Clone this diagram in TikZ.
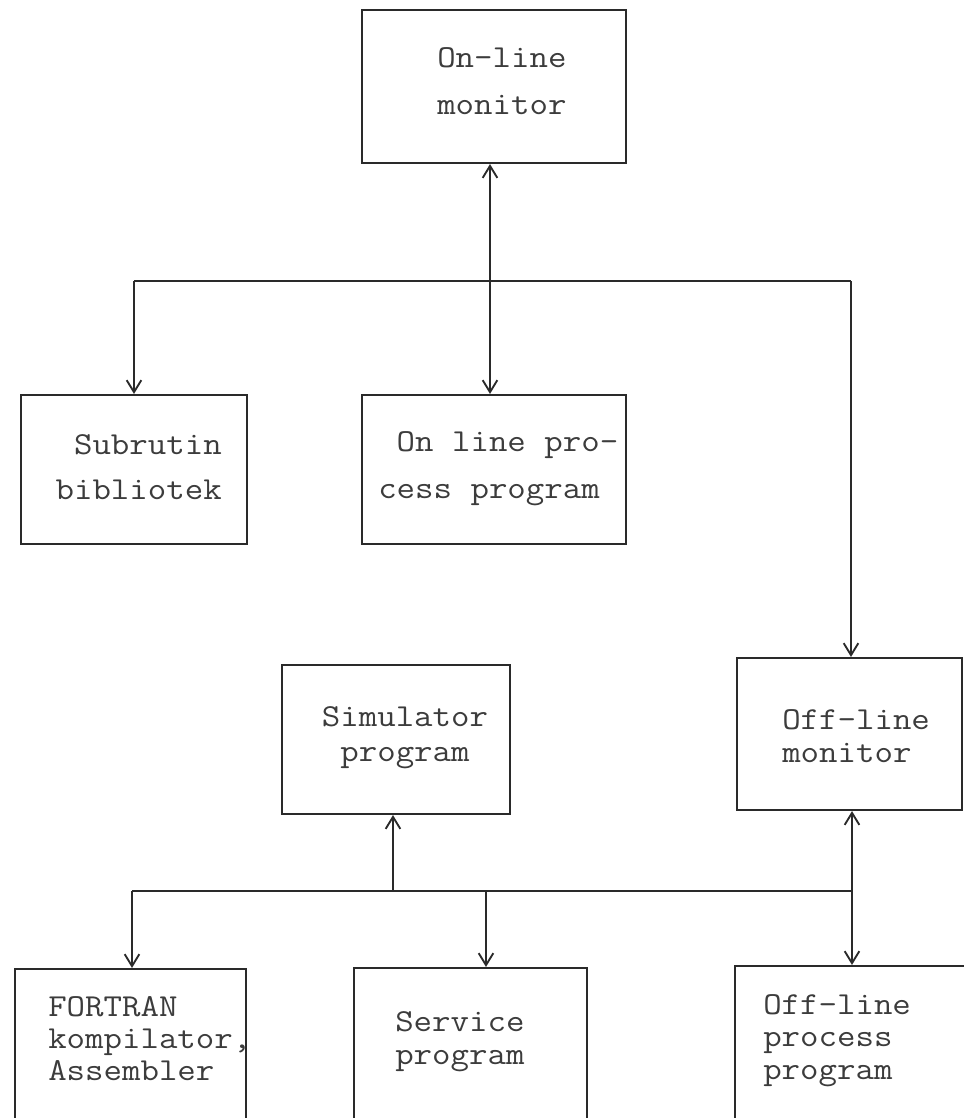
\documentclass[tikz,border=0pt]{standalone}
\usepackage{fontspec}
\setmonofont{Latin Modern Mono}[FakeStretch=1.12]
\usetikzlibrary{arrows.meta,fit}
\definecolor{linec}{HTML}{2A2A2A}
\definecolor{textc}{HTML}{3C3C3C}
\newcommand\mytt[1]{\ttfamily\fontsize{24pt}{#1pt}\selectfont}
\begin{document}
\begin{tikzpicture}[x=0.75pt,y=-0.75pt,
  box/.style={draw=linec, line width=1.6pt, inner sep=0pt},
  conn/.style={draw=linec, line width=1.4pt},
  tipb/.tip={Straight Barb[length=9pt,width=11pt,line width=1.4pt]},
  arr/.style={conn, -tipb},
  darr/.style={conn, tipb-tipb},
  lbl/.style={text=textc, inner sep=0pt, anchor=west, align=left}]
\useasboundingbox (0,0) rectangle (964,1118);
\fill[white] (0,0) rectangle (964,1118);
\clip (0,0) rectangle (964,1118);

% boxes
\node[box, fit={(362,10)(626,163)}] (onm) {};
\node[box, fit={(21,395)(247,544)}] (sub) {};
\node[box, fit={(362,395)(626,544)}] (olp) {};
\node[box, fit={(282,665)(510,814)}] (sim) {};
\node[box, fit={(737,658)(962,810)}] (ofm) {};
\node[box, fit={(15,969)(246,1170)}] (fort) {};
\node[box, fit={(354,968)(587,1170)}] (serv) {};
\node[box, fit={(735,966)(1010,1170)}] (ofp) {};

% texts
\node[lbl, font=\mytt{35.2}] (tonm) at (437,81.5) {On-line\\monitor};
\node[lbl, anchor=east, align=right, font=\mytt{33.8}] (tsub) at (222,467.5) {Subrutin\\bibliotek};
\node[lbl, font=\mytt{35.2}] (tolp) at (378,468.5) {\hphantom{O}On line pro-\\cess program};
\node[lbl, anchor=center, align=center, font=\mytt{26.2}] (tsim) at (405,737.5) {Simulator\\program};
\node[lbl, font=\mytt{24.2}] (tofm) at (782,736) {Off-line\\monitor};
\node[lbl, font=\mytt{24}] (tfort) at (48,1038.5) {FORTRAN\\kompilator,\\Assembler};
\node[lbl, font=\mytt{24.7}] (tserv) at (395,1041.5) {Service\\program};
\node[lbl, font=\mytt{24.4}] (tofp) at (763,1040.5) {Off-line\\process\\program};

% bus points
\coordinate (b1L) at (134,281);
\coordinate (b1R) at (851,281);
\coordinate (b1M) at (490,281);
\coordinate (b2L) at (132,891);
\coordinate (b2R) at (852,891);
\coordinate (b2S) at (393,891);
\coordinate (b2V) at (486,891);

% connectors
\draw[conn] (b1L) -- (b1R);
\draw[darr] (b1M |- onm.south) -- (b1M |- olp.north);
\draw[arr] (b1L) -- (b1L |- sub.north);
\draw[arr] (b1R) -- (b1R |- ofm.north);
\draw[conn] (b2L) -- (b2R);
\draw[arr] (b2S) -- (b2S |- sim.south);
\draw[arr] (b2L) -- (b2L |- fort.north);
\draw[arr] (b2V) -- (b2V |- serv.north);
\draw[darr] (b2R |- ofm.south) -- (b2R |- ofp.north);
\end{tikzpicture}
\end{document}
